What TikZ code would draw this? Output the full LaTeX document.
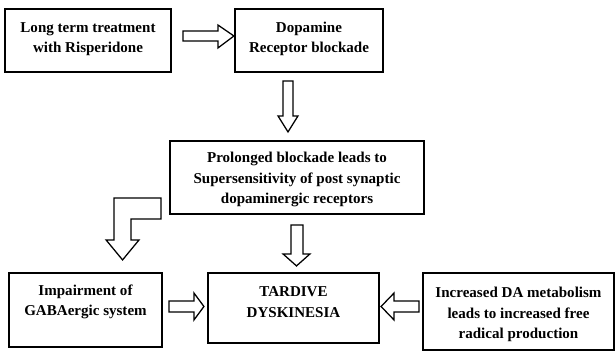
\documentclass[tikz,border=0pt]{standalone}
\usepackage{fontspec}
\setmainfont{Liberation Serif}
\usepackage{tikz}

\tikzset{
  box/.style={draw, line width=1.3pt, align=center, inner sep=0pt,
    font=\fontsize{10.7}{14.5}\selectfont\bfseries},
  fatarrow/.style={draw, line width=0.9pt, fill=white, line join=miter}
}

\begin{document}
\begin{tikzpicture}[x=0.025cm, y=-0.025cm]

\useasboundingbox (0,0) rectangle (615,352);

% boxes
\node[box, minimum width=4.15cm, minimum height=1.575cm, text depth=4.3pt] (treat) at (88,40.5)
  {Long term treatment\\with Risperidone};
\node[box, minimum width=3.7cm, minimum height=1.575cm, text depth=4.3pt] (dopa) at (309,40.5)
  {Dopamine\\Receptor blockade};
\node[box, minimum width=6.35cm, minimum height=1.825cm, text height=39.2pt] (prol) at (297,177.5)
  {Prolonged blockade leads to\\Supersensitivity of post synaptic\\dopaminergic receptors};
\node[box, minimum width=3.825cm, minimum height=1.85cm, text depth=14.3pt] (gaba) at (85.5,310)
  {Impairment of\\GABAergic system};
\node[box, minimum width=4.275cm, minimum height=1.75cm, text depth=8.6pt] (tard) at (293.5,308)
  {TARDIVE\\DYSKINESIA};
\node[box, minimum width=4.775cm, minimum height=1.925cm, text height=40.7pt] (incr) at (518.5,311.5)
  {Increased DA metabolism\\leads to increased free\\radical production};

% block arrows
\draw[fatarrow] ([shift={(11,-9.5)}]treat.east) -- ++(35,0) -- ++(0,-6) -- ++(16,11)
  -- ++(-16,12) -- ++(0,-7) -- ++(-35,0) -- cycle;
\draw[fatarrow] ([shift={(-26,8)}]dopa.south) -- ++(10,0) -- ++(0,35) -- ++(5,0)
  -- ++(-10,16) -- ++(-10,-16) -- ++(5,0) -- cycle;
\draw[fatarrow] ([shift={(-6,10)}]prol.south) -- ++(12,0) -- ++(0,29) -- ++(7,0)
  -- ++(-13.5,12) -- ++(-13.5,-12) -- ++(8,0) -- cycle;
\draw[fatarrow] ([shift={(-8,-17)}]prol.south west) -- ++(0,21) -- ++(-30,0) -- ++(0,21)
  -- ++(8,0) -- ++(-16.5,20) -- ++(-16.5,-20) -- ++(8,0) -- ++(0,-42) -- cycle;
\draw[fatarrow] ([shift={(6,-9)}]gaba.east) -- ++(25,0) -- ++(0,-8) -- ++(10,13.5)
  -- ++(-10,13.5) -- ++(0,-8) -- ++(-25,0) -- cycle;
\draw[fatarrow] ([shift={(-3,-10.5)}]incr.west) -- ++(-25,0) -- ++(0,-8) -- ++(-13,13.5)
  -- ++(13,13.5) -- ++(0,-8) -- ++(25,0) -- cycle;

\end{tikzpicture}
\end{document}
